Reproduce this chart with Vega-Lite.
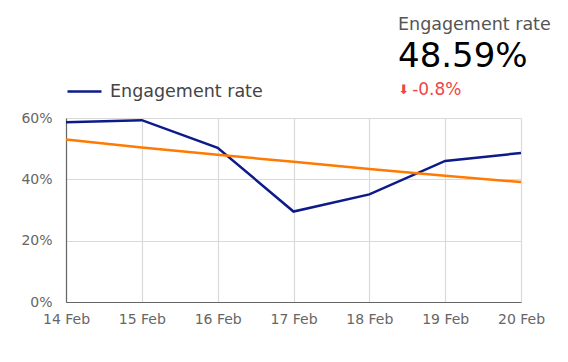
{
  "$schema": "https://vega.github.io/schema/vega-lite/v6.json",
  "width": 568,
  "height": 362,
  "autosize": {"type": "fit", "contains": "padding"},
  "padding": {"left": 20, "right": 23, "top": -3, "bottom": 36},
  "config": {
    "font": "DejaVu Sans",
    "view": {"stroke": null},
    "axis": {"labelFont": "DejaVu Sans", "labelColor": "#666666", "labelFontSize": 14, "gridColor": "#d9d9d9", "gridWidth": 1.2, "domainColor": "#666666", "domainWidth": 1.2, "ticks": false, "title": null}
  },
  "title": {
    "text": "Engagement rate",
    "subtitle": "48.59%",
    "anchor": "start",
    "frame": "group",
    "dx": 332,
    "fontSize": 17.5,
    "fontWeight": "normal",
    "color": "#555555",
    "subtitleFontSize": 34,
    "subtitleColor": "#000000",
    "subtitlePadding": 7,
    "offset": -1
  },
  "datasets": {
    "series": [
      {"date": "14 Feb", "rate": 0.586, "trend": 0.530},
      {"date": "15 Feb", "rate": 0.593, "trend": 0.504},
      {"date": "16 Feb", "rate": 0.503, "trend": 0.480},
      {"date": "17 Feb", "rate": 0.295, "trend": 0.457},
      {"date": "18 Feb", "rate": 0.351, "trend": 0.434},
      {"date": "19 Feb", "rate": 0.460, "trend": 0.412},
      {"date": "20 Feb", "rate": 0.4859, "trend": 0.391}
    ],
    "kpi": [{"date": "19 Feb", "pos": 0.69, "arrow": "⬇", "change": "-0.8%"}]
  },
  "layer": [
    {
      "data": {"name": "series"},
      "mark": {"type": "line", "strokeWidth": 2.5, "clip": false},
      "encoding": {
        "x": {"field": "date", "type": "ordinal", "sort": null, "scale": {"type": "point", "padding": 0},
              "axis": {"labelAngle": 0, "labelPadding": 10, "grid": true}},
        "y": {"field": "rate", "type": "quantitative", "scale": {"domain": [0, 0.6]},
              "axis": {"values": [0, 0.1, 0.2, 0.3, 0.4, 0.5, 0.6], "labelPadding": 14,
                       "labelExpr": "round(datum.value*100) % 20 == 0 ? format(datum.value, '.0%') : ''"}},
        "color": {"datum": "Engagement rate", "type": "nominal",
                  "scale": {"range": ["#0c1a8a"]},
                  "legend": {"title": null, "orient": "top", "symbolType": "stroke", "symbolSize": 1156, "symbolStrokeWidth": 2.5, "labelFontSize": 17.5, "labelColor": "#444444", "labelFont": "DejaVu Sans", "labelOffset": 7, "offset": 18, "padding": 0}}
      }
    },
    {
      "data": {"name": "series"},
      "mark": {"type": "line", "strokeWidth": 2.5, "color": "#ff7a00"},
      "encoding": {
        "x": {"field": "date", "type": "ordinal", "sort": null},
        "y": {"field": "trend", "type": "quantitative"}
      }
    },
    {
      "data": {"name": "kpi"},
      "mark": {"type": "text", "align": "left", "baseline": "middle", "dx": -47, "fontSize": 13, "color": "#f44343", "clip": false},
      "encoding": {
        "x": {"field": "date", "type": "ordinal", "sort": null},
        "y": {"field": "pos", "type": "quantitative"},
        "text": {"field": "arrow"}
      }
    },
    {
      "data": {"name": "kpi"},
      "mark": {"type": "text", "align": "left", "baseline": "middle", "dx": -33, "fontSize": 17, "color": "#f44343", "clip": false},
      "encoding": {
        "x": {"field": "date", "type": "ordinal", "sort": null},
        "y": {"field": "pos", "type": "quantitative"},
        "text": {"field": "change"}
      }
    }
  ]
}
